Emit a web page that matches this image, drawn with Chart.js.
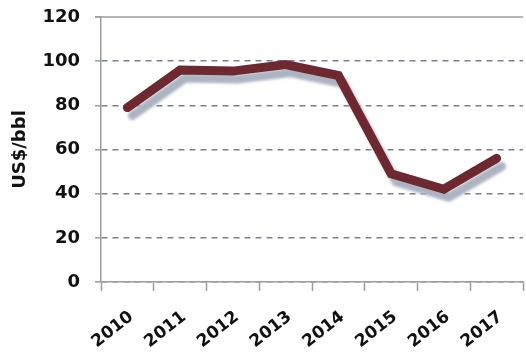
<!DOCTYPE html>
<html>
<head>
<meta charset="utf-8">
<script src="https://cdn.jsdelivr.net/npm/chart.js@4/dist/chart.umd.min.js"></script>
<style>
  html, body { margin: 0; padding: 0; background: #fff; }
  #wrap { width: 526px; height: 355px; }
</style>
</head>
<body>
<div id="wrap"><canvas id="chart"></canvas></div>
<script>
// oil price, yearly average
const years = ["2010", "2011", "2012", "2013", "2014", "2015", "2016", "2017"];
const prices = [79, 96, 95.5, 98.5, 93.5, 49, 42, 56];
const yTicks = [0, 20, 40, 60, 80, 100, 120];
const yTitle = "US$/bbl";

const FONT = "'DejaVu Sans', sans-serif";

// grey drop shadow under the price line
const lineShadow = {
  id: "lineShadow",
  beforeDatasetDraw(chart) {
    const ctx = chart.ctx;
    ctx.save();
    ctx.shadowColor = "rgba(172, 180, 194, 1)";
    ctx.shadowOffsetX = 5;
    ctx.shadowOffsetY = 8;
    ctx.shadowBlur = 3;
  },
  afterDatasetDraw(chart) {
    chart.ctx.restore();
  },
};

// solid frame line at the top of the plot (the 120 line is not dashed)
const topLine = {
  id: "topLine",
  beforeDatasetsDraw(chart) {
    const { ctx, chartArea } = chart;
    ctx.save();
    ctx.strokeStyle = "#9a9ca3";
    ctx.lineWidth = 1.5;
    ctx.beginPath();
    ctx.moveTo(chartArea.left - 6, chartArea.top);
    ctx.lineTo(chartArea.right, chartArea.top);
    ctx.stroke();
    ctx.restore();
  },
};

new Chart(document.getElementById("chart"), {
  type: "line",
  data: {
    labels: years,
    datasets: [{
      data: prices,
      borderColor: "#6e2930",
      borderWidth: 9,
      borderJoinStyle: "miter",
      borderCapStyle: "round",
      pointRadius: 0,
      tension: 0,
      fill: false,
    }],
  },
  options: {
    responsive: true,
    maintainAspectRatio: false,
    animation: false,
    layout: { padding: { left: 10, right: 3, top: 17, bottom: 2 } },
    plugins: {
      legend: { display: false },
      tooltip: { enabled: false },
    },
    scales: {
      x: {
        offset: true,
        afterFit: (scale) => { scale.height = 71; },
        grid: {
          offset: true,
          drawOnChartArea: false,
          drawTicks: true,
          tickLength: 9,
          tickColor: "#9a9ca3",
          tickWidth: 1.5,
        },
        border: { color: "#9a9ca3", width: 1.5 },
        ticks: {
          minRotation: 38,
          maxRotation: 38,
          padding: 16,
          labelOffset: 4,
          color: "#111",
          font: { family: FONT, size: 17, weight: "bold" },
        },
      },
      y: {
        min: 0,
        max: 120,
        afterBuildTicks: (scale) => {
          scale.ticks = yTicks.map((v) => ({ value: v }));
        },
        afterFit: (scale) => {
          scale.width = 91;
          scale.paddingTop = 0;
          scale.paddingBottom = 0;
        },
        grid: {
          color: (c) => (c.tick && c.tick.value === 120 ? "rgba(0,0,0,0)" : "#7a8090"),
          lineWidth: 1.6,
          tickLength: 6,
          tickColor: "#9a9ca3",
          tickWidth: 1.5,
        },
        border: { color: "#9a9ca3", width: 1.5, dash: [6, 5] },
        title: {
          display: true,
          text: yTitle,
          color: "#111",
          font: { family: FONT, size: 18, weight: "bold" },
          padding: { top: 0, bottom: 0 },
        },
        ticks: {
          padding: 15,
          color: "#111",
          font: { family: FONT, size: 18, weight: "bold" },
        },
      },
    },
  },
  plugins: [lineShadow, topLine],
});
</script>
</body>
</html>
